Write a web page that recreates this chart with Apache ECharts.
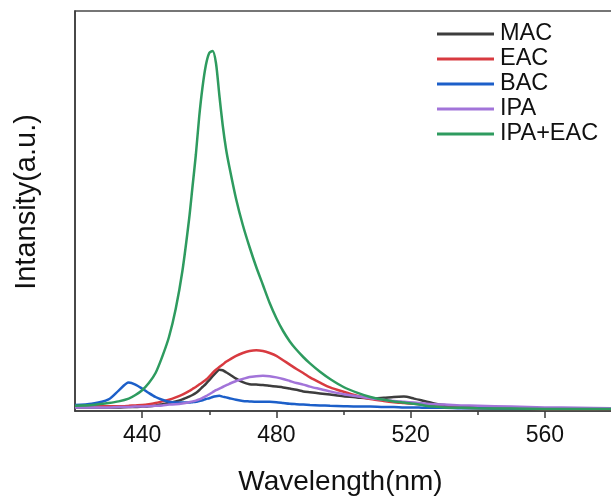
<!DOCTYPE html>
<html>
<head>
<meta charset="utf-8">
<script src="https://cdn.jsdelivr.net/npm/echarts@6/dist/echarts.min.js"></script>
<style>
  html, body { margin: 0; padding: 0; background: #fff; }
  #chart { width: 611px; height: 501px; }
</style>
</head>
<body>
<div id="chart"></div>
<script>
// Emission wavelengths (nm) shared by all spectra
const wavelength = [420, 425, 430, 433, 436, 438, 440, 442, 444, 446, 448, 450, 452, 454, 455, 456, 457, 458, 459, 460,
  461, 462, 463, 464, 465, 466, 468, 470, 472, 474, 476, 478, 480, 482, 484, 486, 488, 490, 493, 496,
  500, 504, 508, 512, 515, 518, 521, 524, 527, 530, 535, 540, 550, 560, 570, 580];

// PL intensity (a.u.) of each sample
const mac = [9, 9, 9, 9, 10, 10, 11, 12, 14, 17, 20, 24, 29, 36, 40, 45, 52, 60, 68, 77,
  87, 96, 103, 102, 97, 92, 81, 72, 67, 66, 65, 63, 61, 59, 56, 53, 49, 47, 44, 41,
  37, 34, 31, 33, 35, 36, 31, 25, 19, 15, 11, 9, 7, 6, 6, 5];
const eac = [12, 12, 12, 12, 13, 14, 15, 17, 20, 24, 28, 34, 41, 50, 55, 60, 66, 72, 78, 86,
  95, 103, 110, 116, 123, 128, 138, 145, 150, 152, 150, 145, 138, 127, 116, 105, 95, 84, 71, 59,
  48, 38, 30, 25, 22, 20, 18, 16, 12, 10, 8, 7, 6, 5, 5, 5];
const bac = [15, 18, 29, 51, 71, 66, 56, 45, 35, 28, 23, 21, 21, 21, 22, 23, 25, 27, 30, 32,
  35, 37, 38, 36, 34, 32, 28, 25, 24, 23, 23, 23, 22, 20, 18, 17, 16, 15, 14, 13,
  12, 11, 11, 10, 10, 9, 9, 8, 8, 8, 7, 7, 6, 6, 6, 6];
const ipa = [9, 9, 9, 10, 10, 11, 11, 12, 13, 14, 16, 17, 19, 22, 24, 26, 29, 33, 37, 42,
  47, 52, 56, 60, 64, 68, 75, 80, 85, 87, 88, 87, 84, 80, 75, 70, 66, 61, 55, 49,
  42, 37, 32, 28, 25, 23, 21, 19, 17, 16, 14, 13, 11, 9, 8, 7];
const ipaEac = [13, 15, 20, 24, 31, 40, 52, 70, 95, 136, 185, 255, 350, 480, 560, 640, 735, 810, 865, 895,
  900, 870, 790, 715, 655, 610, 530, 465, 410, 360, 315, 270, 232, 200, 174, 153, 135, 119, 98, 80,
  60, 46, 35, 28, 24, 21, 18, 14, 11, 9, 8, 7, 6, 5, 5, 5];

const seriesNames = ['MAC', 'EAC', 'BAC', 'IPA', 'IPA+EAC'];
const seriesValues = [mac, eac, bac, ipa, ipaEac];
const seriesColors = ['#3d3d3d', '#d83a40', '#1c5fc9', '#a274d9', '#2e9b5f'];

// x-axis tick positions
const majorTicks = [440, 480, 520, 560];
const minorTicks = [460, 500, 540];

const FONT = 'Liberation Sans, Arial, sans-serif';

const chart = echarts.init(document.getElementById('chart'), null, { renderer: 'canvas' });

const series = seriesNames.map((name, i) => ({
  name: name,
  type: 'line',
  xAxisIndex: 0,
  yAxisIndex: 0,
  data: wavelength.map((w, k) => [w, seriesValues[i][k]]),
  showSymbol: false,
  symbol: 'none',
  smooth: 0.25,
  lineStyle: { width: 2.5, color: seriesColors[i] },
  itemStyle: { color: seriesColors[i] },
  emphasis: { disabled: true },
  animation: false
}));

chart.setOption({
  backgroundColor: '#fff',
  animation: false,
  grid: {
    left: 75, top: 11, right: -1, bottom: 90,
    outerBoundsMode: 'none',
    containLabel: false,
    show: true, borderColor: '#4a4a4a', borderWidth: 1.5, backgroundColor: 'transparent'
  },
  legend: {
    orient: 'vertical',
    left: 432,
    top: 17,
    icon: 'rect',
    itemWidth: 57,
    itemHeight: 3,
    itemGap: 1,
    textStyle: { fontFamily: FONT, fontSize: 23.5, color: '#111', padding: [0, 0, 0, 1] },
    data: seriesNames
  },
  xAxis: [
    {
      type: 'value',
      min: 420, max: 580,
      name: 'Wavelength(nm)',
      nameLocation: 'middle',
      nameGap: 57,
      nameTextStyle: { fontFamily: FONT, fontSize: 28, color: '#111', padding: [0, 6, 0, 0] },
      axisLine: { show: true, onZero: false, lineStyle: { color: '#3a3a3a', width: 1.5 } },
      axisTick: { show: true, inside: false, length: 7, customValues: majorTicks, lineStyle: { color: '#3a3a3a', width: 1.5 } },
      axisLabel: { show: true, margin: 13, customValues: majorTicks, fontFamily: FONT, fontSize: 23, color: '#111' },
      splitLine: { show: false }
    },
    {
      type: 'value',
      position: 'bottom',
      min: 420, max: 580,
      axisLine: { show: false, onZero: false },
      axisTick: { show: true, inside: false, length: 4, customValues: minorTicks, lineStyle: { color: '#3a3a3a', width: 1.5 } },
      axisLabel: { show: false },
      splitLine: { show: false }
    }
  ],
  yAxis: {
    type: 'value',
    min: 0, max: 1000,
    name: 'Intansity(a.u.)',
    nameLocation: 'middle',
    nameGap: 34,
    nameRotate: 90,
    nameTextStyle: { fontFamily: FONT, fontSize: 29, color: '#111', padding: [0, 0, 0, 18] },
    axisLine: { show: true, onZero: false, lineStyle: { color: '#3a3a3a', width: 1.5 } },
    axisTick: { show: false },
    axisLabel: { show: false },
    splitLine: { show: false }
  },
  series: series
});
</script>
</body>
</html>
